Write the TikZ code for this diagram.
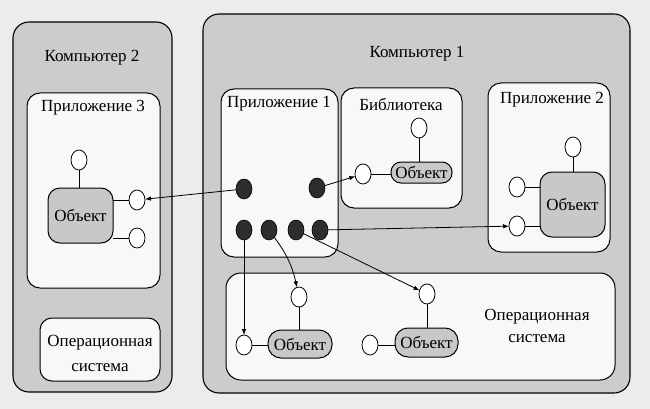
\documentclass[tikz,border=0pt]{standalone}
\usepackage{fontspec}
\setmainfont{Liberation Serif}
\newfontfamily\lbfont{Liberation Serif}
\usetikzlibrary{shapes.geometric,arrows.meta}
\definecolor{bgc}{RGB}{236,236,236}
\definecolor{boxgray}{RGB}{204,204,204}
\definecolor{objgray}{RGB}{200,200,200}
\definecolor{inwhite}{RGB}{248,248,248}
\definecolor{dotc}{RGB}{45,45,45}
\begin{document}
\begin{tikzpicture}[x=1pt,y=-1pt,
  every node/.style={inner sep=0pt,outer sep=0pt},
  lbl/.style={font=\lbfont\fontsize{17}{20}\selectfont},
  outerbox/.style={draw,line width=1.1pt,fill=boxgray,rounded corners=16pt,anchor=north west},
  innerbox/.style={draw,line width=1pt,fill=inwhite,rounded corners=13pt,anchor=north west},
  obj/.style={draw,line width=1pt,fill=objgray,font=\lbfont\fontsize{17}{20}\selectfont},
  port/.style={draw,line width=0.8pt,fill=white,ellipse,minimum width=16pt,minimum height=20pt},
  knob/.style={draw=black,line width=0.6pt,fill=dotc,ellipse,minimum width=16pt,minimum height=20pt},
  link/.style={line width=0.8pt},
  arr/.style={line width=0.8pt,-{Latex[length=6pt,width=4.5pt]}}
]
\useasboundingbox[fill=bgc] (0,0) rectangle (650,409);

% Computer 2
\node[outerbox,minimum width=159pt,minimum height=370pt] (c2) at (13,22) {};
\node[lbl] (c2t) at (92,58) {Компьютер 2};
\node[innerbox,minimum width=133pt,minimum height=195pt] (app3) at (27,93) {};
\node[lbl] (app3t) at (93,108) {Приложение 3};
\node[innerbox,minimum width=120pt,minimum height=63pt,rounded corners=12pt] (os2) at (40,318) {};
\node[lbl,align=center,font=\lbfont\fontsize{17}{25}\selectfont] (os2t) at (100,353) {Операционная\\система};

\node[obj,rounded corners=12pt,minimum width=65pt,minimum height=55pt] (obj3) at (80.5,215.5) {Объект};
\node[port] (a3t) at (79,160) {};
\node[port] (a3r1) at (137,200) {};
\node[port] (a3r2) at (137,238) {};
\draw[link] (a3t.south) -- (a3t.south |- obj3.north);
\draw[link] (a3r1.west) -- (a3r1.west -| obj3.east);
\draw[link] (a3r2.west) -- (a3r2.west -| obj3.east);

% Computer 1
\node[outerbox,minimum width=427pt,minimum height=379pt] (c1) at (203,14) {};
\node[lbl] (c1t) at (417,54) {Компьютер 1};
\node[innerbox,minimum width=117pt,minimum height=168pt] (app1) at (221,89) {};
\node[lbl] (app1t) at (279,104) {Приложение 1};
\node[innerbox,minimum width=121pt,minimum height=120pt] (lib) at (341,88) {};
\node[lbl] (libt) at (401,104) {Библиотека};
\node[innerbox,minimum width=122pt,minimum height=169pt] (app2) at (488,83) {};
\node[lbl] (app2t) at (552,100) {Приложение 2};
\node[innerbox,minimum width=389pt,minimum height=107pt,rounded corners=15pt] (os1) at (226,273) {};
\node[lbl,align=center,font=\lbfont\fontsize{17}{22}\selectfont] (os1t) at (537,326) {Операционная\\система};

% Library object
\node[obj,rounded corners=10pt,minimum width=61pt,minimum height=21pt] (objl) at (421.5,172.5) {Объект};
\node[port] (lt) at (419,128) {};
\node[port] (ll) at (363,174) {};
\draw[link] (lt.south) -- (lt.south |- objl.north);
\draw[link] (ll.east) -- (ll.east -| objl.west);

% App2 object
\node[obj,rounded corners=12pt,minimum width=65pt,minimum height=65pt] (obj2) at (572.5,204.5) {Объект};
\node[port] (p2t) at (573,147) {};
\node[port] (p2l1) at (517,187) {};
\node[port] (p2l2) at (517,226) {};
\draw[link] (p2t.south) -- (p2t.south |- obj2.north);
\draw[link] (p2l1.east) -- (p2l1.east -| obj2.west);
\draw[link] (p2l2.east) -- (p2l2.east -| obj2.west);

% OS objects
\node[obj,rounded corners=13pt,minimum width=64pt,minimum height=28pt] (objo1) at (300,344) {Объект};
\node[port] (o1t) at (299,297) {};
\node[port] (o1l) at (244,345) {};
\draw[link] (o1t.south) -- (o1t.south |- objo1.north);
\draw[link] (o1l.east) -- (o1l.east -| objo1.west);
\node[obj,rounded corners=13pt,minimum width=63pt,minimum height=29pt] (objo2) at (426.5,342.5) {Объект};
\node[port] (o2t) at (427,294) {};
\node[port] (o2l) at (370,345) {};
\draw[link] (o2t.south) -- (o2t.south |- objo2.north);
\draw[link] (o2l.east) -- (o2l.east -| objo2.west);

% knobs in App1
\node[knob] (d1) at (244,189) {};
\node[knob] (d2) at (317,188) {};
\node[knob] (d3) at (244,230) {};
\node[knob] (d4) at (269,230) {};
\node[knob] (d5) at (296,230) {};
\node[knob] (d6) at (320,230) {};

% connectors
\draw[arr] (d1) -- (a3r1);
\draw[arr] (d2) -- (ll);
\draw[arr] (d6) -- (p2l2);
\draw[arr] (d3) -- (o1l);
\draw[arr] (d4) to[bend left=12] (o1t);
\draw[arr] (d5) -- (o2t);
\end{tikzpicture}
\end{document}
